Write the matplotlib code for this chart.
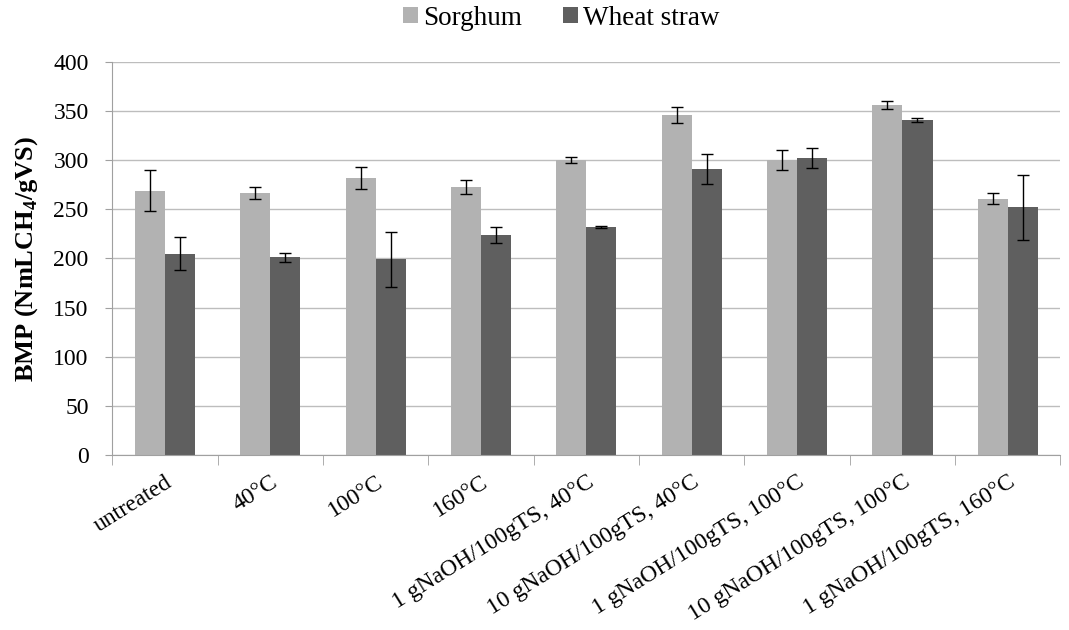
import matplotlib
matplotlib.use("Agg")
import matplotlib.pyplot as plt
import numpy as np

categories = ["untreated", "40°C", "100°C", "160°C",
              "1 gNaOH/100gTS, 40°C", "10 gNaOH/100gTS, 40°C",
              "1 gNaOH/100gTS, 100°C", "10 gNaOH/100gTS, 100°C",
              "1 gNaOH/100gTS, 160°C"]
sorghum = [269, 267, 282, 273, 300, 346, 300, 356, 261]
sorghum_err = [21, 6, 11, 7, 3, 8, 10, 4, 6]
wheat = [205, 201, 199, 224, 232, 291, 302, 341, 252]
wheat_err = [17, 5, 28, 8, 1, 15, 10, 2, 33]
yticks = [0, 50, 100, 150, 200, 250, 300, 350, 400]

plt.rcParams['font.family'] = ['Liberation Serif', 'DejaVu Serif']
plt.rcParams['mathtext.fontset'] = 'custom'
plt.rcParams['mathtext.rm'] = 'Liberation Serif'
plt.rcParams['mathtext.bf'] = 'Liberation Serif:bold'

fig = plt.figure(figsize=(10.69, 6.30), dpi=100)
ax = fig.add_axes([0.105, 0.278, 0.887, 0.6236])

x = np.arange(len(categories))
w = 0.286
ax.bar(x - w/2, sorghum, w, color='#b2b2b2', label='Sorghum', zorder=2)
ax.bar(x + w/2, wheat, w, color='#5f5f5f', label='Wheat straw', zorder=2)
ax.errorbar(x - w/2, sorghum, yerr=sorghum_err, fmt='none', ecolor='black',
            elinewidth=1, capsize=4, capthick=1, zorder=3)
ax.errorbar(x + w/2, wheat, yerr=wheat_err, fmt='none', ecolor='black',
            elinewidth=1, capsize=4, capthick=1, zorder=3)

ax.set_xlim(-0.5, len(categories) - 0.5)
ax.set_ylim(0, 400)
ax.set_yticks(yticks)
ax.yaxis.grid(True, color='#bdbdbd', linewidth=1, zorder=0)
ax.set_axisbelow(True)
for s in ['top', 'right']:
    ax.spines[s].set_visible(False)
ax.spines['left'].set_color('#a0a0a0')
ax.spines['bottom'].set_color('#a0a0a0')
ax.tick_params(axis='y', length=5, color='#a0a0a0', labelsize=17, pad=12)

ax.set_xticks(x)
ax.set_xticklabels(categories, rotation=32, ha='right', rotation_mode='anchor', fontsize=17)
ax.tick_params(axis='x', length=0, pad=12)
ax.set_xticks(np.arange(-0.5, len(categories) + 0.5, 1), minor=True)
ax.tick_params(axis='x', which='minor', length=7, color='#a0a0a0', direction='out')
for lbl in ax.get_xticklabels():
    lbl.set_x(lbl.get_position()[0])

ax.set_ylabel('BMP (NmLCH$_\\mathbf{4}$/gVS)', fontsize=19, fontweight='bold')
ax.yaxis.set_label_coords(-0.076, 0.5)

fig.legend(*ax.get_legend_handles_labels(), loc='center', bbox_to_anchor=(0.525, 0.971),
           ncol=2, frameon=False, fontsize=19.5, handlelength=0.55, handleheight=0.55,
           handletextpad=0.2, columnspacing=1.5, borderpad=0, borderaxespad=0)

fig.savefig('out.png', dpi=100)
